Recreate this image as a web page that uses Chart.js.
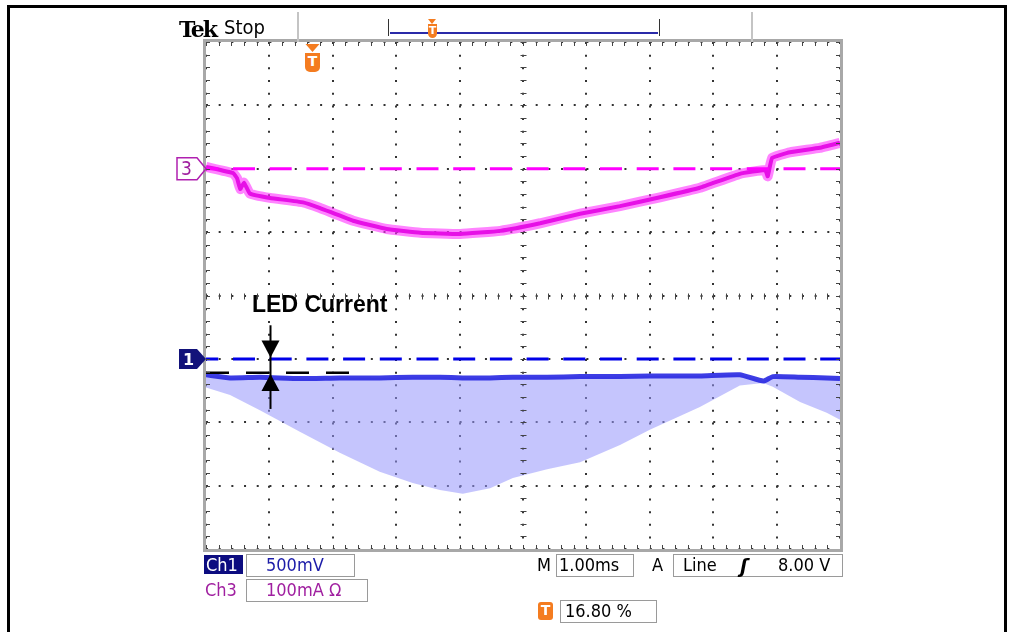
<!DOCTYPE html>
<html>
<head>
<meta charset="utf-8">
<script src="https://cdn.jsdelivr.net/npm/chart.js@4/dist/chart.umd.min.js"></script>
<style>
  body { margin: 0; background: #fff; width: 1013px; height: 632px; overflow: hidden; position: relative;
         font-family: "DejaVu Sans Condensed", "DejaVu Sans", sans-serif; }
  #frame { position: absolute; left: 7px; top: 5px; width: 994px; height: 700px; border: 3px solid #000; }
  canvas { position: absolute; left: 0; top: 0; }
  .t { position: absolute; white-space: nowrap; line-height: 1; }
  .box { position: absolute; border: 1px solid #9a9a9a; box-sizing: border-box; }
  .tee { position: absolute; background: #f47c20; color: #fff; font: bold 14px "DejaVu Sans", sans-serif;
         text-align: center; line-height: 17px; border-radius: 0 0 5px 5px; }
</style>
</head>
<body>
<div id="frame"></div>
<canvas id="scope" width="1013" height="632"></canvas>

<!-- top status bar -->
<div class="t" style="left:179px;top:16px;font:bold 22px 'DejaVu Serif',serif;letter-spacing:-2px;">Tek</div>
<div class="t" style="left:224px;top:17px;font-size:20px;">Stop</div>
<div style="position:absolute;left:297px;top:12px;width:2px;height:30px;background:#c4c4c4"></div>
<div style="position:absolute;left:751px;top:12px;width:2px;height:30px;background:#c4c4c4"></div>
<div style="position:absolute;left:388px;top:19px;width:270px;height:17px;border:1.5px solid #333;border-top:none;border-bottom:none"></div>
<div style="position:absolute;left:390px;top:32px;width:268px;height:2px;background:#2a2aa8"></div>
<div style="position:absolute;left:428px;top:19px;width:0;height:0;border-left:4px solid transparent;border-right:4px solid transparent;border-top:5px solid #f47c20"></div>
<div class="tee" style="left:428px;top:24px;width:9px;height:14px;font-size:11px;line-height:14px;">T</div>

<!-- on-graph labels -->
<div class="t" style="left:252px;top:291px;font:bold 23px 'Liberation Sans',Arial,sans-serif;">LED Current</div>
<div class="t" id="mk3" style="left:181px;top:160px;font-size:19px;color:#a020a0;">3</div>
<div class="t" id="mk1" style="left:183px;top:351px;font:bold 16px 'DejaVu Sans',sans-serif;color:#fff;">1</div>
<div class="tee" id="trig" style="left:307px;top:53px;width:15px;height:19px;">T</div>

<!-- bottom readouts -->
<div class="t" style="left:204px;top:555px;width:39px;height:19px;background:#0c0c80;color:#fff;font-size:18px;line-height:19px;padding-left:2px;box-sizing:border-box;">Ch1</div>
<div class="box" style="left:246px;top:554px;width:109px;height:23px;"></div>
<div class="t" style="left:266px;top:556px;font-size:18px;color:#1c1ca8;">500mV</div>
<div class="t" style="left:205px;top:581px;font-size:18px;color:#a020a0;">Ch3</div>
<div class="box" style="left:246px;top:579px;width:122px;height:23px;"></div>
<div class="t" style="left:266px;top:581px;font-size:18px;color:#a020a0;">100mA Ω</div>

<div class="t" style="left:537px;top:556px;font-size:18px;">M</div>
<div class="box" style="left:556px;top:554px;width:78px;height:23px;"></div>
<div class="t" style="left:559px;top:556px;font-size:18px;">1.00ms</div>
<div class="t" style="left:652px;top:556px;font-size:18px;">A</div>
<div class="box" style="left:673px;top:554px;width:170px;height:23px;"></div>
<div class="t" style="left:683px;top:556px;font-size:18px;">Line</div>
<div class="t" style="left:740px;top:555px;font:bold italic 19px 'DejaVu Sans',sans-serif;">ʃ</div>
<div class="t" style="left:778px;top:556px;font-size:18px;">8.00 V</div>

<div class="tee" style="left:538px;top:602px;width:15px;height:18px;border-radius:3px;">T</div>
<div class="box" style="left:560px;top:600px;width:97px;height:23px;"></div>
<div class="t" style="left:565px;top:602px;font-size:18px;">16.80 %</div>

<script>
// time in divisions (1.00 ms/div), level in divisions
const ch3Time  = [0, 0.43, 0.49, 0.54, 0.60, 0.69, 1.01, 1.53, 1.80, 2.32, 2.85, 3.38, 4.01, 4.64, 5.27, 5.90, 6.53, 7.16, 7.79, 8.42, 8.82, 8.86, 8.93, 9.21, 9.68, 10];
const ch3Level = [2.03, 1.93, 1.85, 1.68, 1.78, 1.61, 1.54, 1.47, 1.38, 1.18, 1.05, 0.99, 0.97, 1.02, 1.14, 1.29, 1.41, 1.55, 1.70, 1.92, 1.98, 1.88, 2.17, 2.26, 2.33, 2.41];

const ch1Time   = [0, 0.38, 0.85, 1.48, 2.11, 2.74, 3.26, 3.69, 4.05, 4.48, 4.84, 5.38, 5.90, 6.53, 7.00, 7.79, 8.42, 8.79, 8.94, 9.37, 9.79, 10];
const ch1Top    = [-1.25, -1.30, -1.29, -1.31, -1.30, -1.30, -1.29, -1.29, -1.30, -1.30, -1.29, -1.29, -1.28, -1.28, -1.27, -1.27, -1.25, -1.35, -1.28, -1.29, -1.30, -1.31];
const ch1Bottom = [-1.45, -1.57, -1.81, -2.15, -2.48, -2.78, -2.96, -3.07, -3.13, -3.04, -2.88, -2.74, -2.63, -2.36, -2.12, -1.76, -1.42, -1.38, -1.44, -1.68, -1.85, -1.96];

const refTime  = [0, 10];
const ch3Ref   = [2, 2];
const ch1Ref   = [-1, -1];
const ledTime  = [0, 2.46];
const ledLevel = [-1.22, -1.22];

const triggerPos = 1.68;     // 16.80 %
const arrowTime = 1.01;
const arrowSpan = [-0.47, -1.79];
const arrowTips = [-0.98, -1.24];

const pts = (xs, ys) => xs.map((x, i) => ({ x: x, y: ys[i] }));
const dotPitch = 634 / 50;

const scopeDecor = {
  id: 'scopeDecor',
  afterDraw(chart) {
    const { ctx, chartArea: a, scales: { x, y } } = chart;
    const line = (x1, y1, x2, y2) => { ctx.beginPath(); ctx.moveTo(x1, y1); ctx.lineTo(x2, y2); ctx.stroke(); };
    ctx.save();
    // graticule ticks
    ctx.strokeStyle = '#444';
    ctx.lineWidth = 1;
    const cx = Math.round(x.getPixelForValue(5)) + 0.5;
    const cy = Math.round(y.getPixelForValue(0)) + 0.5;
    for (let i = 0; i <= 50; i++) {
      const px = Math.round(x.getPixelForValue(i / 5)) + 0.5;
      line(px, a.top, px, a.top + 4);
      line(px, a.bottom, px, a.bottom - 4);
      line(px, cy - 3, px, cy + 3);
    }
    for (let i = -20; i <= 20; i++) {
      const py = Math.round(y.getPixelForValue(i / 5)) + 0.5;
      line(a.left, py, a.left + 4, py);
      line(a.right, py, a.right - 4, py);
      line(cx - 3, py, cx + 3, py);
    }
    // frame
    ctx.strokeStyle = '#a8a8a8';
    ctx.lineWidth = 3;
    ctx.strokeRect(a.left - 1.5, a.top - 1.5, a.right - a.left + 3, a.bottom - a.top + 3);

    // channel markers
    const y3 = y.getPixelForValue(ch3Ref[0]);
    ctx.lineWidth = 1.5;
    ctx.strokeStyle = '#b020b0';
    ctx.beginPath();
    ctx.moveTo(a.left - 29, y3 - 11); ctx.lineTo(a.left - 9, y3 - 11); ctx.lineTo(a.left, y3);
    ctx.lineTo(a.left - 9, y3 + 11); ctx.lineTo(a.left - 29, y3 + 11); ctx.closePath();
    ctx.stroke();
    document.getElementById('mk3').style.top = (y3 - 10) + 'px';

    const y1 = y.getPixelForValue(ch1Ref[0]);
    ctx.fillStyle = '#12127a';
    ctx.beginPath();
    ctx.moveTo(a.left - 27, y1 - 10); ctx.lineTo(a.left - 9, y1 - 10); ctx.lineTo(a.left, y1);
    ctx.lineTo(a.left - 9, y1 + 10); ctx.lineTo(a.left - 27, y1 + 10); ctx.closePath();
    ctx.fill();
    document.getElementById('mk1').style.top = (y1 - 9) + 'px';

    // trigger marker
    const tx = x.getPixelForValue(triggerPos);
    ctx.fillStyle = '#f47c20';
    ctx.beginPath();
    ctx.moveTo(tx - 7, a.top + 2); ctx.lineTo(tx + 7, a.top + 2); ctx.lineTo(tx, a.top + 10); ctx.closePath();
    ctx.fill();
    document.getElementById('trig').style.left = (tx - 7.5) + 'px';

    // LED current arrows
    const ax = Math.round(x.getPixelForValue(arrowTime)) + 0.5;
    ctx.strokeStyle = '#000';
    ctx.fillStyle = '#000';
    ctx.lineWidth = 2;
    line(ax, y.getPixelForValue(arrowSpan[0]), ax, y.getPixelForValue(arrowSpan[1]));
    const d = y.getPixelForValue(arrowTips[0]);
    ctx.beginPath(); ctx.moveTo(ax - 9, d - 17); ctx.lineTo(ax + 9, d - 17); ctx.lineTo(ax, d); ctx.closePath(); ctx.fill();
    const u = y.getPixelForValue(arrowTips[1]);
    ctx.beginPath(); ctx.moveTo(ax - 9, u + 17); ctx.lineTo(ax + 9, u + 17); ctx.lineTo(ax, u); ctx.closePath(); ctx.fill();
    ctx.restore();
  }
};

new Chart(document.getElementById('scope'), {
  type: 'line',
  data: {
    datasets: [
      { data: pts(ch1Time, ch1Bottom), borderWidth: 0, borderColor: 'rgba(0,0,0,0)', pointRadius: 0, order: 3 },
      { data: pts(ch1Time, ch1Top), fill: '-1', backgroundColor: 'rgba(150,150,252,0.55)',
        borderColor: 'rgba(40,40,225,0.9)', borderWidth: 5, pointRadius: 0, tension: 0.15, order: 2 },
      { data: pts(ch3Time, ch3Level), borderColor: 'rgba(255,50,255,0.6)', borderWidth: 10,
        pointRadius: 0, tension: 0.1, order: 2 },
      { data: pts(ch3Time, ch3Level), borderColor: '#e610e6', borderWidth: 4,
        pointRadius: 0, tension: 0.1, order: 1 },
      { data: pts(refTime, ch3Ref), borderColor: '#ff00ff', borderWidth: 3, borderDash: [22, 14.7],
        borderDashOffset: -27, pointRadius: 0, order: 0 },
      { data: pts(refTime, ch1Ref), borderColor: '#0000e8', borderWidth: 3, borderDash: [22, 14.7],
        borderDashOffset: -27, pointRadius: 0, order: 0 },
      { data: pts(ledTime, ledLevel), borderColor: '#000', borderWidth: 2.5, borderDash: [23, 17],
        pointRadius: 0, order: 0 }
    ]
  },
  options: {
    responsive: false,
    animation: false,
    devicePixelRatio: 1,
    layout: { padding: { left: 206, top: 42, right: 173, bottom: 83 } },
    plugins: { legend: { display: false }, tooltip: { enabled: false } },
    scales: {
      x: {
        type: 'linear', min: 0, max: 10,
        ticks: { display: false, stepSize: 1 },
        grid: { drawTicks: false, color: '#333', lineWidth: 2 },
        border: { display: false, dash: [2, dotPitch - 2] }
      },
      y: {
        type: 'linear', min: -4, max: 4,
        ticks: { display: false, stepSize: 1 },
        grid: { drawTicks: false, color: '#333', lineWidth: 2 },
        border: { display: false, dash: [2, dotPitch - 2] }
      }
    }
  },
  plugins: [scopeDecor]
});
</script>
</body>
</html>
